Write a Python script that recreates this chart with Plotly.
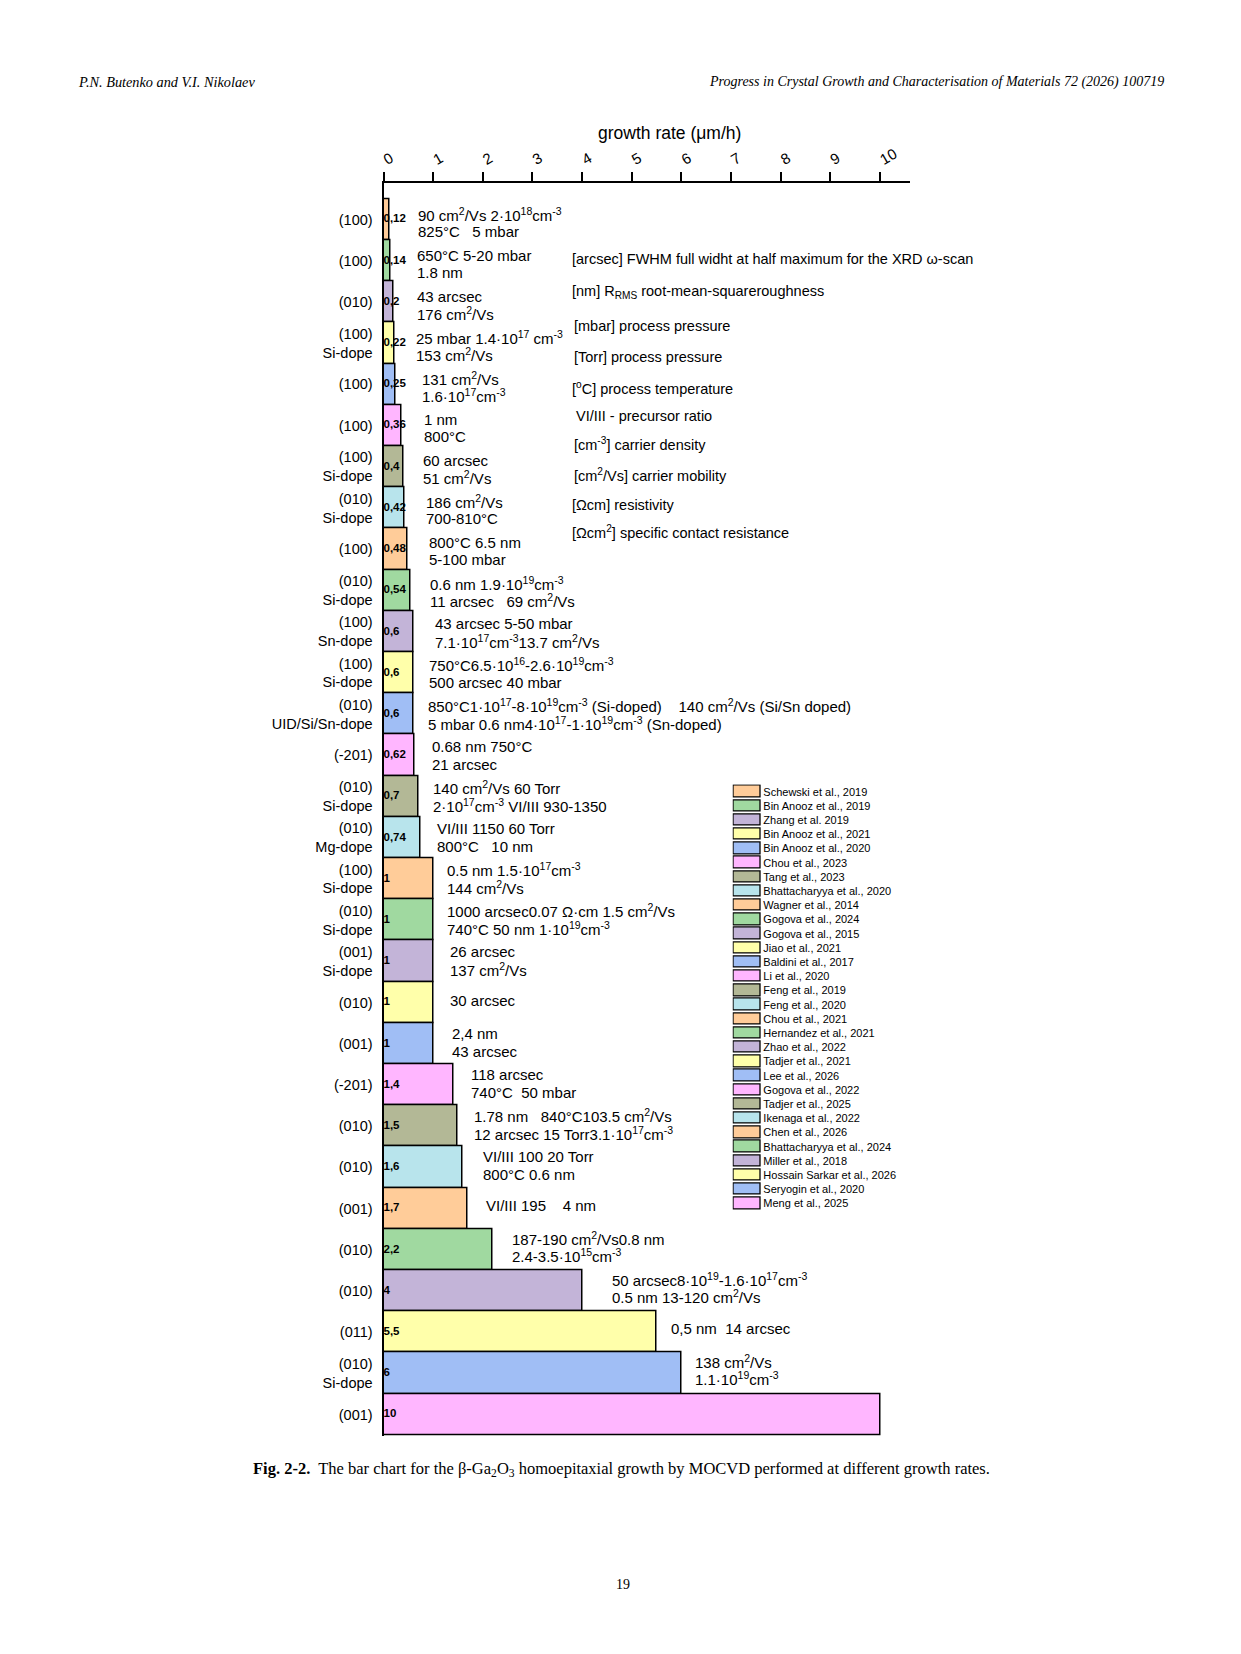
import plotly.graph_objects as go

W, H = 1241, 1654          # reference page size (px)
BODY = 8                   # default page margin of the html body
FW, FH = W - 2 * BODY, H - 2 * BODY
NB = "\u00a0"

# ---------------- data ----------------
orientation = ["(100)", "(100)", "(010)", "(100)", "(100)", "(100)", "(100)", "(010)", "(100)", "(010)",
               "(100)", "(100)", "(010)", "(-201)", "(010)", "(010)", "(100)", "(010)", "(001)", "(010)",
               "(001)", "(-201)", "(010)", "(010)", "(001)", "(010)", "(010)", "(011)", "(010)", "(001)"]
doping = ["", "", "", "Si-dope", "", "", "Si-dope", "Si-dope", "", "Si-dope",
          "Sn-dope", "Si-dope", "UID/Si/Sn-dope", "", "Si-dope", "Mg-dope", "Si-dope", "Si-dope", "Si-dope", "",
          "", "", "", "", "", "", "", "", "Si-dope", ""]
growth_rate = [0.12, 0.14, 0.2, 0.22, 0.25, 0.36, 0.4, 0.42, 0.48, 0.54,
               0.6, 0.6, 0.6, 0.62, 0.7, 0.74, 1, 1, 1, 1,
               1, 1.4, 1.5, 1.6, 1.7, 2.2, 4, 5.5, 6, 10]
references = ["Schewski et al., 2019", "Bin Anooz et al., 2019", "Zhang et al. 2019", "Bin Anooz et al., 2021",
              "Bin Anooz et al., 2020", "Chou et al., 2023", "Tang et al., 2023", "Bhattacharyya et al., 2020",
              "Wagner et al., 2014", "Gogova et al., 2024", "Gogova et al., 2015", "Jiao et al., 2021",
              "Baldini et al., 2017", "Li et al., 2020", "Feng et al., 2019", "Feng et al., 2020",
              "Chou et al., 2021", "Hernandez et al., 2021", "Zhao et al., 2022", "Tadjer et al., 2021",
              "Lee et al., 2026", "Gogova et al., 2022", "Tadjer et al., 2025", "Ikenaga et al., 2022",
              "Chen et al., 2026", "Bhattacharyya et al., 2024", "Miller et al., 2018", "Hossain Sarkar et al., 2026",
              "Seryogin et al., 2020", "Meng et al., 2025"]
notes_line1 = [
    "90 cm<sup>2</sup>/Vs 2·10<sup>18</sup>cm<sup>-3</sup>",
    "650°C" + NB + "5-20 mbar",
    "43 arcsec",
    "25 mbar" + NB + "1.4·10<sup>17</sup> cm<sup>-3</sup>",
    "131 cm<sup>2</sup>/Vs",
    "1 nm",
    "60 arcsec",
    "186 cm<sup>2</sup>/Vs",
    "800°C 6.5 nm",
    "0.6 nm" + NB + "1.9·10<sup>19</sup>cm<sup>-3</sup>",
    "43 arcsec" + NB + "5-50 mbar",
    "750°C6.5·10<sup>16</sup>-2.6·10<sup>19</sup>cm<sup>-3</sup>",
    "850°C1·10<sup>17</sup>-8·10<sup>19</sup>cm<sup>-3</sup> (Si-doped)" + NB * 4 + "140 cm<sup>2</sup>/Vs (Si/Sn doped)",
    "0.68 nm 750°C",
    "140 cm<sup>2</sup>/Vs 60 Torr",
    "VI/III 1150 60 Torr",
    "0.5 nm 1.5·10<sup>17</sup>cm<sup>-3</sup>",
    "1000 arcsec0.07 Ω·cm 1.5 cm<sup>2</sup>/Vs",
    "26 arcsec",
    "30 arcsec",
    "2,4 nm",
    "118 arcsec",
    "1.78 nm" + NB * 3 + "840°C103.5 cm<sup>2</sup>/Vs",
    "VI/III 100 20 Torr",
    "VI/III 195" + NB * 4 + "4 nm",
    "187-190 cm<sup>2</sup>/Vs0.8 nm",
    "50 arcsec8·10<sup>19</sup>-1.6·10<sup>17</sup>cm<sup>-3</sup>",
    "0,5 nm" + NB * 2 + "14 arcsec",
    "138 cm<sup>2</sup>/Vs",
    "",
]
notes_line2 = [
    "825°C" + NB * 3 + "5 mbar",
    "1.8 nm",
    "176 cm<sup>2</sup>/Vs",
    "153 cm<sup>2</sup>/Vs",
    "1.6·10<sup>17</sup>cm<sup>-3</sup>",
    "800°C",
    "51 cm<sup>2</sup>/Vs",
    "700-810°C",
    "5-100 mbar",
    "11 arcsec" + NB * 3 + "69 cm<sup>2</sup>/Vs",
    "7.1·10<sup>17</sup>cm<sup>-3</sup>13.7 cm<sup>2</sup>/Vs",
    "500 arcsec 40 mbar",
    "5 mbar 0.6 nm4·10<sup>17</sup>-1·10<sup>19</sup>cm<sup>-3</sup> (Sn-doped)",
    "21 arcsec",
    "2·10<sup>17</sup>cm<sup>-3</sup> VI/III 930-1350",
    "800°C" + NB * 3 + "10 nm",
    "144 cm<sup>2</sup>/Vs",
    "740°C 50 nm 1·10<sup>19</sup>cm<sup>-3</sup>",
    "137 cm<sup>2</sup>/Vs",
    "",
    "43 arcsec",
    "740°C" + NB * 2 + "50 mbar",
    "12 arcsec 15 Torr3.1·10<sup>17</sup>cm<sup>-3</sup>",
    "800°C 0.6 nm",
    "",
    "2.4-3.5·10<sup>15</sup>cm<sup>-3</sup>",
    "0.5 nm 13-120 cm<sup>2</sup>/Vs",
    "",
    "1.1·10<sup>19</sup>cm<sup>-3</sup>",
    "",
]
glossary = [
    "[arcsec] FWHM full widht at half maximum for the XRD ω-scan",
    "[nm] R<sub>RMS</sub> root-mean-squareroughness",
    "[mbar] process pressure",
    "[Torr] process pressure",
    "[<sup>o</sup>C] process temperature",
    "VI/III - precursor ratio",
    "[cm<sup>-3</sup>] carrier density",
    "[cm<sup>2</sup>/Vs] carrier mobility",
    "[Ωcm] resistivity",
    "[Ωcm<sup>2</sup>] specific contact resistance",
]
x_ticks = list(range(0, 11))
palette = ["#FFCC99", "#A0D9A0", "#C3B4D8", "#FFFFAA", "#A0BEF5", "#FFB6FF", "#B3B896", "#B8E4EC"]

# ---------------- layout constants (pixels on the page) ----------------
note_gap_px = [27, 25, 22, 20, 24, 21, 18, 20, 20, 18,
               20, 14, 13, 16, 13, 15, 12, 12, 15, 15,
               17, 16, 14, 18, 16, 17, 28, 12, 12, 15]
gloss_y = [259, 291.5, 326, 356.5, 387.5, 416, 444.5, 475, 505, 531.5]
gloss_x = [570, 570, 572, 572, 570, 574, 572, 572, 570, 570]

# ---------------- derived ----------------
n = len(growth_rate)
idx = list(range(n))
colors = [palette[i % len(palette)] for i in idx]
value_labels = [("%g" % v).replace(".", ",") for v in growth_rate]
tick_text = [o if d == "" else o + "<br>" + d for o, d in zip(orientation, doping)]


def px_x(p):
    return (p - BODY) / FW


def px_y(p):
    return 1 - (p - BODY) / FH


SANS = "Liberation Sans, Arial, sans-serif"
SERIF = "Liberation Serif, Times New Roman, serif"

fig = go.Figure()

# main bars
fig.add_trace(go.Bar(
    x=growth_rate, y=idx, orientation="h", width=1,
    marker=dict(color=colors, line=dict(color="black", width=1.5)),
    xaxis="x", yaxis="y", showlegend=False, hoverinfo="skip",
))
# value labels at bar base
fig.add_trace(go.Scatter(
    x=[0] * n, y=idx, mode="text", text=value_labels, textposition="middle right",
    textfont=dict(family=SANS, size=11.5, color="black", weight="bold"),
    xaxis="x", yaxis="y", showlegend=False, hoverinfo="skip", cliponaxis=False,
))
# legend swatches as a small bar subplot
fig.add_trace(go.Bar(
    x=[1] * n, y=idx, orientation="h", width=0.8,
    marker=dict(color=colors, line=dict(color="black", width=1.3)),
    xaxis="x2", yaxis="y2", showlegend=False, hoverinfo="skip",
))

annotations = []
half_sep = 8.75
for i in idx:
    l1, l2 = notes_line1[i], notes_line2[i]
    c = 3.5 - 7.0 * i / (n - 1)   # block centre, px below bar centre
    if l1 and l2:
        items = [(l1, c - half_sep), (l2, c + half_sep)]
    elif l1:
        items = [(l1, c - 1)]
    else:
        items = []
    for txt, off in items:
        annotations.append(dict(
            x=growth_rate[i], y=i, xref="x", yref="y", text=txt, showarrow=False,
            xanchor="left", yanchor="middle", xshift=note_gap_px[i], yshift=-off,
            font=dict(family=SANS, size=15, color="black"),
        ))

# glossary block
for t, gy, gx in zip(glossary, gloss_y, gloss_x):
    annotations.append(dict(
        x=px_x(gx), y=px_y(gy), xref="paper", yref="paper", text=t, showarrow=False,
        xanchor="left", yanchor="middle", font=dict(family=SANS, size=14.5, color="black"),
    ))

# axis title
annotations.append(dict(
    x=px_x(669), y=px_y(133), xref="paper", yref="paper", text="growth rate (μm/h)",
    showarrow=False, xanchor="center", yanchor="middle",
    font=dict(family=SANS, size=17.5, color="black"),
))
# page header / caption / page number
annotations.append(dict(
    x=px_x(76), y=px_y(82), xref="paper", yref="paper", text="<i>P.N. Butenko and V.I. Nikolaev</i>",
    showarrow=False, xanchor="left", yanchor="middle", font=dict(family=SERIF, size=14.3, color="black"),
))
annotations.append(dict(
    x=px_x(1166), y=px_y(82), xref="paper", yref="paper",
    text="<i>Progress in Crystal Growth and Characterisation of Materials 72 (2026) 100719</i>",
    showarrow=False, xanchor="right", yanchor="middle", font=dict(family=SERIF, size=14, color="black"),
))
annotations.append(dict(
    x=px_x(251), y=px_y(1469), xref="paper", yref="paper",
    text="<b>Fig. 2-2.</b>  The bar chart for the β-Ga<sub>2</sub>O<sub>3</sub> homoepitaxial growth by MOCVD performed at different growth rates.",
    showarrow=False, xanchor="left", yanchor="middle", font=dict(family=SERIF, size=16.5, color="black"),
))
annotations.append(dict(
    x=px_x(623), y=px_y(1584), xref="paper", yref="paper", text="19",
    showarrow=False, xanchor="center", yanchor="middle", font=dict(family=SERIF, size=14, color="black"),
))

# geometry (pixels on the page)
plot_l, plot_r = 383.5, 910
plot_t, plot_b = 183.3, 1436
row_px = (plot_b - plot_t - 15.7) / n
top_pad = 15.7 / row_px

leg_l, leg_r = 734, 761
leg_pad = (leg_r - leg_l) * 0.05
leg_t, leg_b = 784.6, 1210.6

fig.update_layout(
    width=FW, height=FH, autosize=False,
    margin=dict(l=0, r=0, t=0, b=0),
    paper_bgcolor="white", plot_bgcolor="white",
    bargap=0,
    xaxis=dict(
        domain=[px_x(plot_l), px_x(plot_r)], range=[0, (plot_r - plot_l) / 49.65],
        side="top", anchor="y", tickmode="array", tickvals=x_ticks, ticktext=[str(t) for t in x_ticks],
        ticks="outside", ticklen=9, tickwidth=1.6, tickcolor="black",
        showline=True, linewidth=2.2, linecolor="black", mirror=False,
        showgrid=False, zeroline=False, tickangle=-30,
        tickfont=dict(family=SANS, size=15, color="black"), automargin=False,
    ),
    yaxis=dict(
        domain=[px_y(plot_b), px_y(plot_t)], range=[n - 0.5 + 0.02, -0.5 - top_pad],
        anchor="x", tickmode="array", tickvals=idx, ticktext=tick_text, ticks="",
        showline=True, linewidth=2, linecolor="black", showgrid=False, zeroline=False,
        tickfont=dict(family=SANS, size=14.5, color="black"), ticklabelstandoff=6, automargin=False,
    ),
    xaxis2=dict(
        domain=[px_x(leg_l - leg_pad), px_x(leg_r + leg_pad)], range=[-0.05, 1.05],
        anchor="y2", visible=False,
    ),
    yaxis2=dict(
        domain=[px_y(leg_b), px_y(leg_t)], range=[n - 0.5, -0.5], anchor="x2", side="right",
        tickmode="array", tickvals=idx, ticktext=references, ticks="",
        showline=False, showgrid=False, zeroline=False,
        tickfont=dict(family=SANS, size=11, color="black"), ticklabelstandoff=0, automargin=False,
    ),
    annotations=annotations,
    font=dict(family=SANS, color="black"),
)

fig.write_html("out.html")
